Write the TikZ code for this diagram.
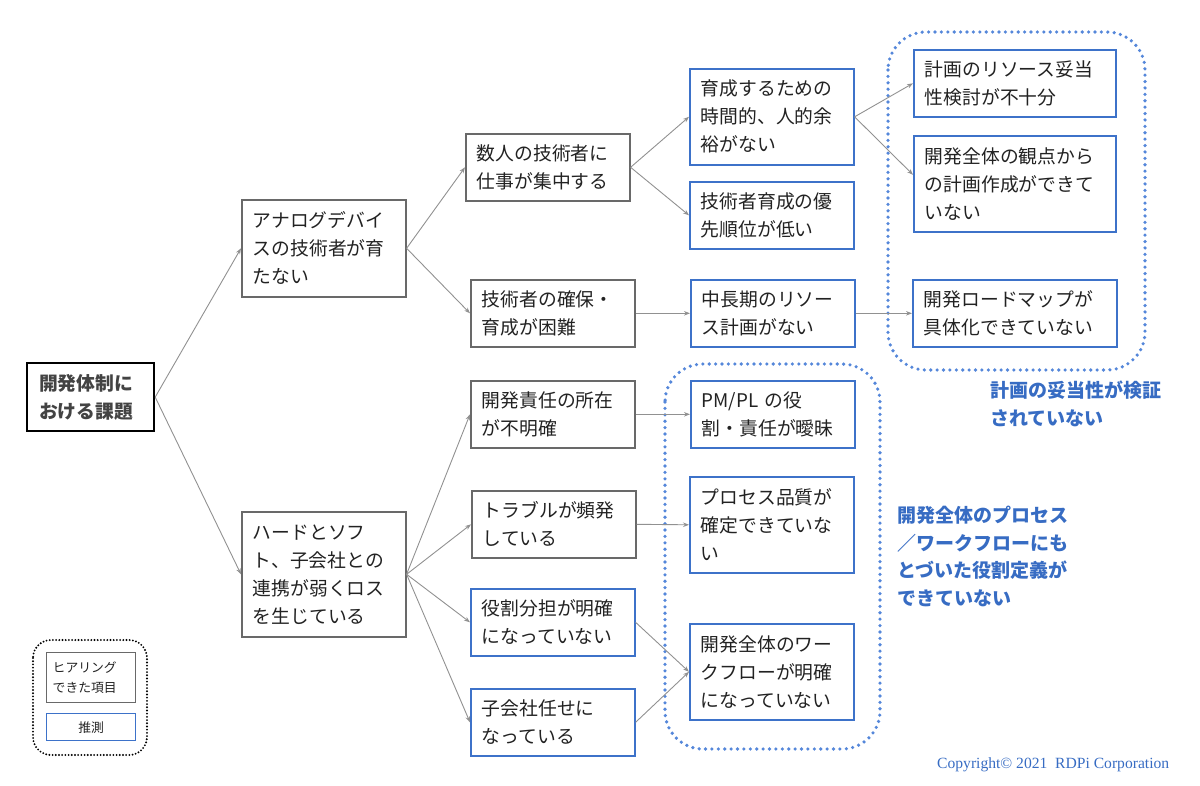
\documentclass[tikz,border=0pt]{standalone}
\usepackage{fontspec}
\newfontfamily\jp{Noto Sans CJK JP}
\newfontfamily\serifcr{Liberation Serif}
\usetikzlibrary{arrows.meta,calc}
\definecolor{boxgray}{RGB}{105,105,105}
\definecolor{boxblue}{RGB}{61,114,201}
\definecolor{dotblue}{RGB}{85,135,218}
\definecolor{lblblue}{RGB}{55,108,195}
\definecolor{linegray}{RGB}{145,145,145}
\definecolor{textc}{RGB}{34,34,34}
\tikzset{
  base/.style={anchor=north west, align=left, inner xsep=11pt, inner ysep=0pt,
    font=\jp\fontsize{18.8}{28}\selectfont, text=textc, line width=1.6pt,
    minimum width=164pt, text width=142pt},
  hbox/.style={base, draw=boxgray},
  gbox/.style={base, draw=boxblue},
  conn/.style={draw=linegray, line width=0.9pt, -{Stealth[length=6pt,width=4.5pt]}},
  region/.style={draw=dotblue, line width=3.6pt, line cap=round, dash pattern=on 0pt off 6.4pt, rounded corners=38pt},
  lbl/.style={anchor=north west, align=left, inner sep=0pt, text=lblblue,
    font=\jp\bfseries\fontsize{19}{27.5}\selectfont}
}
\begin{document}
\begin{tikzpicture}[x=1pt,y=-1pt]
\useasboundingbox (0,0) rectangle (1200,785);
% regions
\draw[region] (888,32) rectangle (1145,370);
\draw[region] (665,364) rectangle (880,749);
% root
\node[anchor=north west, draw=black, line width=2.2pt, align=left, inner xsep=12pt, inner ysep=0pt,
  minimum width=127pt, minimum height=68pt, text width=103pt, text=textc!85!white,
  font=\jp\bfseries\fontsize{18.8}{28}\selectfont] (root) at (26,362) {開発体制に\\おける課題};
% level 1
\node[hbox, minimum height=97pt] (A) at (241,199) {アナログデバイ\\スの技術者が育\\たない};
\node[hbox, minimum height=125pt] (B) at (241,511) {ハードとソフ\\ト、子会社との\\連携が弱くロス\\を生じている};
% level 2
\node[hbox, minimum height=67pt] (C) at (465,133) {数人の技術者に\\仕事が集中する};
\node[hbox, minimum height=67pt] (D) at (470,279) {技術者の確保・\\育成が困難};
\node[hbox, minimum height=67pt] (E) at (470,380) {開発責任の所在\\が不明確};
\node[hbox, minimum height=67pt] (F) at (471,490) {トラブルが頻発\\している};
\node[gbox, minimum height=67pt] (G) at (470,588) {役割分担が明確\\になっていない};
\node[gbox, minimum height=67pt] (H) at (470,688) {子会社任せに\\なっている};
% level 3
\node[gbox, minimum height=96pt] (I) at (689,68) {育成するための\\時間的、人的余\\裕がない};
\node[gbox, minimum height=67pt] (J) at (689,181) {技術者育成の優\\先順位が低い};
\node[gbox, minimum height=67pt] (K) at (690,279) {中長期のリソー\\ス計画がない};
\node[gbox, minimum height=67pt] (L) at (690,380) {PM/PL の役\\割・責任が曖昧};
\node[gbox, minimum height=96pt] (M) at (689,476) {プロセス品質が\\確定できていな\\い};
\node[gbox, minimum height=96pt] (N) at (689,623) {開発全体のワー\\クフローが明確\\になっていない};
% level 4
\node[gbox, minimum width=202pt, text width=180pt, minimum height=67pt] (O) at (913,49) {計画のリソース妥当\\性検討が不十分};
\node[gbox, minimum width=202pt, text width=180pt, minimum height=96pt] (P) at (913,135) {開発全体の観点から\\の計画作成ができて\\いない};
\node[gbox, minimum width=204pt, text width=182pt, minimum height=67pt] (Q) at (912,279) {開発ロードマップが\\具体化できていない};
% labels
\node[lbl] (l1) at (990,381) {計画の妥当性が検証\\されていない};
\node[lbl] (l2) at (897,506) {開発全体のプロセス\\／ワークフローにも\\とづいた役割定義が\\できていない};
% connectors
\draw[conn] (root.east) -- (A.west);
\draw[conn] (root.east) -- (B.west);
\draw[conn] (A.east) -- (C.west);
\draw[conn] (A.east) -- (D.west);
\draw[conn] (B.east) -- (E.west);
\draw[conn] (B.east) -- (F.west);
\draw[conn] (B.east) -- (G.west);
\draw[conn] (B.east) -- (H.west);
\draw[conn] (C.east) -- (I.west);
\draw[conn] (C.east) -- (J.west);
\draw[conn] (D.east) -- (K.west);
\draw[conn] (E.east) -- (L.west);
\draw[conn] (F.east) -- (M.west);
\draw[conn] (G.east) -- (N.west);
\draw[conn] (H.east) -- (N.west);
\draw[conn] (I.east) -- (O.west);
\draw[conn] (I.east) -- ($(P.west)+(0,-9)$);
\draw[conn] (K.east) -- (Q.west);
% legend
\draw[draw=black, line width=2.1pt, line cap=round, dash pattern=on 0pt off 3.2pt, rounded corners=18pt] (33,640) rectangle (147,755);
\node[anchor=north west, draw=boxgray, line width=1.4pt, align=left, inner xsep=6pt, inner ysep=0pt,
  minimum width=89pt, minimum height=50pt, text width=77pt, text=textc,
  font=\jp\fontsize{12.8}{20}\selectfont] (lg1) at (46,652) {ヒアリング\\できた項目};
\node[anchor=north west, draw=boxblue, line width=1.4pt, align=center, inner sep=0pt,
  minimum width=89pt, minimum height=27pt, text=textc,
  font=\jp\fontsize{12.8}{20}\selectfont] (lg2) at (46,713) {推測};
% copyright
\node[anchor=west, inner sep=0pt, text=lblblue, font=\serifcr\fontsize{15.6}{18}\selectfont] (cr) at (937,765) {Copyright© 2021\ \ RDPi Corporation};
\end{tikzpicture}
\end{document}
